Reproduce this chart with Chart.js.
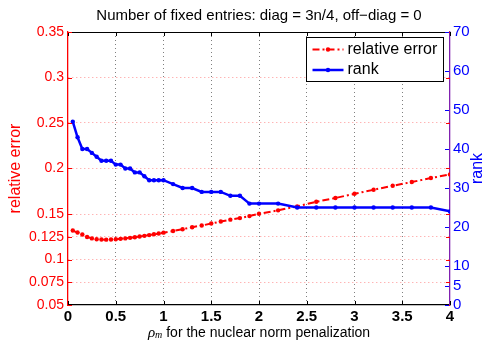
<!DOCTYPE html>
<html>
<head>
<meta charset="utf-8">
<script src="https://cdn.jsdelivr.net/npm/chart.js@4.4.1/dist/chart.umd.min.js"></script>
<style>
  html, body { margin: 0; padding: 0; background: #fff; }
</style>
</head>
<body>
<canvas id="chart" width="486" height="343" style="width:486px;height:343px"></canvas>
<script>
// penalty parameter rho_m (finer steps near zero)
const rhoVals = [0.05, 0.1, 0.15, 0.2, 0.25, 0.3, 0.35, 0.4, 0.45, 0.5,
                 0.55, 0.6, 0.65, 0.7, 0.75, 0.8, 0.85, 0.9, 0.95, 1.0,
                 1.1, 1.2, 1.3, 1.4, 1.5, 1.6, 1.7, 1.8, 1.9, 2.0,
                 2.2, 2.4, 2.6, 2.8, 3.0, 3.2, 3.4, 3.6, 3.8, 4.0]
const errVals = [0.1318, 0.1296, 0.1274, 0.1248, 0.1232, 0.1223, 0.1219, 0.1218, 0.1219, 0.1222,
                 0.1227, 0.1232, 0.1238, 0.1245, 0.1252, 0.1260, 0.1268, 0.1277, 0.1286, 0.1295,
                 0.1313, 0.1333, 0.1355, 0.1373, 0.1395, 0.1417, 0.1438, 0.1455, 0.1477, 0.1502,
                 0.1540, 0.1584, 0.1634, 0.1676, 0.1722, 0.1766, 0.1810, 0.1851, 0.1895, 0.1935]
const rankVals = [47, 43, 40, 40, 39, 38, 37, 37, 37, 36,
                  36, 35, 35, 34, 34, 33, 32, 32, 32, 32,
                  31, 30, 30, 29, 29, 29, 28, 28, 26, 26,
                  26, 25, 25, 25, 25, 25, 25, 25, 25, 24]

const xTicks = [0, 0.5, 1, 1.5, 2, 2.5, 3, 3.5, 4]
const errTicks = [0.05, 0.075, 0.1, 0.125, 0.15, 0.2, 0.25, 0.3, 0.35]
const rankTicks = [0, 5, 10, 20, 30, 40, 50, 60, 70]

const FONT = '"Liberation Sans", Arial, Helvetica, sans-serif'
const SERIF = '"Liberation Serif", "Times New Roman", serif'
const RED = '#ff0000'
const BLUE = '#0000ff'

const toPoints = vals => rhoVals.map((r, i) => ({x: r, y: vals[i]}))
const setTicks = list => scale => { scale.ticks = list.map(v => ({value: v})) }
const plainNumber = v => String(+v.toFixed(3))
// no grid line on the outer ticks, the frame is drawn there
const innerOnly = (list, color) => ctx => (ctx.index === 0 || ctx.index === list.length - 1) ? 'rgba(0,0,0,0)' : color

function strokeLine(ctx, x1, y1, x2, y2) {
    ctx.beginPath()
    ctx.moveTo(x1, y1)
    ctx.lineTo(x2, y2)
    ctx.stroke()
}

// frame, inward ticks, legend box and the two hand-set axis labels
const decorations = {
    id: 'decorations',
    afterDraw(chart) {
        const {ctx, chartArea: a, scales} = chart
        const snap = v => Math.round(v) + 0.5
        ctx.save()
        ctx.lineWidth = 1

        ctx.strokeStyle = '#000'
        strokeLine(ctx, a.left, snap(a.top), a.right, snap(a.top))
        xTicks.forEach(v => {
            const px = snap(scales.x.getPixelForValue(v))
            strokeLine(ctx, px, a.bottom, px, a.bottom - 4)
            strokeLine(ctx, px, a.top, px, a.top + 4)
        })
        ctx.strokeStyle = RED
        errTicks.forEach(v => {
            const py = snap(scales.yErr.getPixelForValue(v))
            strokeLine(ctx, a.left, py, a.left + 4, py)
            strokeLine(ctx, a.right, py, a.right - 4, py)
        })
        ctx.strokeStyle = BLUE
        rankTicks.forEach(v => {
            const py = snap(scales.yRank.getPixelForValue(v))
            strokeLine(ctx, a.right - 1, py, a.right - 5, py)
        })

        // legend
        const lx = 306.5, ly = 37.5, lw = 137, lh = 44
        ctx.fillStyle = '#fff'
        ctx.fillRect(lx, ly, lw, lh)
        ctx.strokeStyle = '#000'
        ctx.strokeRect(lx, ly, lw, lh)
        ctx.font = '16px ' + FONT
        ctx.textBaseline = 'middle'
        chart.data.datasets.forEach((ds, i) => {
            const yy = ly + 12 + i * 20.5
            ctx.strokeStyle = ds.borderColor
            ctx.lineWidth = ds.borderWidth
            ctx.setLineDash(ds.borderDash || [])
            strokeLine(ctx, lx + 6, yy, lx + 37, yy)
            ctx.setLineDash([])
            ctx.fillStyle = ds.borderColor
            ctx.beginPath()
            ctx.arc(lx + 21.5, yy, ds.pointRadius, 0, Math.PI * 2)
            ctx.fill()
            ctx.fillStyle = '#000'
            ctx.fillText(ds.label, lx + 41, yy)
        })

        // right axis label, reads bottom to top
        ctx.save()
        ctx.translate(478, (a.top + a.bottom) / 2)
        ctx.rotate(-Math.PI / 2)
        ctx.textAlign = 'center'
        ctx.fillStyle = BLUE
        ctx.font = '16px ' + FONT
        ctx.fillText('rank', 0, 0)
        ctx.restore()

        // x axis label with subscripted rho_m
        const rest = ' for the nuclear norm penalization'
        const base = 336.5
        ctx.textBaseline = 'alphabetic'
        ctx.textAlign = 'left'
        ctx.fillStyle = '#000'
        ctx.font = 'italic 15px ' + SERIF
        const wRho = ctx.measureText('ρ').width
        ctx.font = 'italic 10px ' + SERIF
        const wM = ctx.measureText('m').width
        ctx.font = '14px ' + FONT
        const wRest = ctx.measureText(rest).width
        let cx = (a.left + a.right) / 2 - (wRho + wM + wRest) / 2
        ctx.font = 'italic 15px ' + SERIF
        ctx.fillText('ρ', cx, base)
        cx += wRho
        ctx.font = 'italic 10px ' + SERIF
        ctx.fillText('m', cx, base + 1.5)
        cx += wM
        ctx.font = '14px ' + FONT
        ctx.fillText(rest, cx, base)
        ctx.restore()
    }
}

new Chart(document.getElementById('chart'), {
    type: 'line',
    data: {
        datasets: [
            {
                label: 'relative error',
                data: toPoints(errVals),
                yAxisID: 'yErr',
                borderColor: RED,
                backgroundColor: RED,
                borderWidth: 2,
                borderDash: [7, 3, 2, 3],
                pointRadius: 2.2,
                pointBorderWidth: 0,
                order: 2,
            },
            {
                label: 'rank',
                data: toPoints(rankVals),
                yAxisID: 'yRank',
                borderColor: BLUE,
                backgroundColor: BLUE,
                borderWidth: 2.5,
                pointRadius: 2.2,
                pointBorderWidth: 0,
                order: 1,
            },
        ],
    },
    options: {
        responsive: false,
        animation: false,
        devicePixelRatio: 1,
        layout: {padding: 0},
        plugins: {
            legend: {display: false},
            tooltip: {enabled: false},
            title: {
                display: true,
                text: 'Number of fixed entries: diag = 3n/4, off\u2212diag = 0',
                fullSize: false,
                color: '#000',
                font: {family: FONT, size: 15, weight: 'normal'},
                padding: {top: 7, bottom: 7},
            },
        },
        scales: {
            x: {
                type: 'linear',
                min: 0,
                max: 4,
                afterBuildTicks: setTicks(xTicks),
                afterFit: s => { s.height = 38 },
                ticks: {color: '#000', font: {family: FONT, size: 15, weight: 'bold'}, padding: 3, maxRotation: 0, autoSkip: false, callback: plainNumber},
                grid: {drawTicks: false, color: innerOnly(xTicks, 'rgba(0,0,0,0.5)')},
                border: {color: '#000', width: 1.3, dash: [1, 3]},
            },
            yErr: {
                type: 'linear',
                position: 'left',
                min: 0.05,
                max: 0.35,
                afterBuildTicks: setTicks(errTicks),
                afterFit: s => { s.width = 68 },
                ticks: {color: RED, font: {family: FONT, size: 14}, padding: 4, callback: plainNumber},
                grid: {drawTicks: false, color: innerOnly(errTicks, 'rgba(255,60,60,0.55)')},
                border: {color: RED, width: 1.3, dash: [1, 3]},
                title: {display: true, text: 'relative error', color: RED, font: {family: FONT, size: 16}, padding: {top: 5.5, bottom: 0}},
            },
            yRank: {
                type: 'linear',
                position: 'right',
                min: 0,
                max: 70,
                afterBuildTicks: setTicks(rankTicks),
                afterFit: s => { s.width = 36 },
                ticks: {color: BLUE, font: {family: FONT, size: 15}, padding: 3},
                grid: {drawOnChartArea: false, drawTicks: false},
                border: {color: '#8020b0', width: 1.3},
            },
        },
    },
    plugins: [decorations],
})
</script>
</body>
</html>
